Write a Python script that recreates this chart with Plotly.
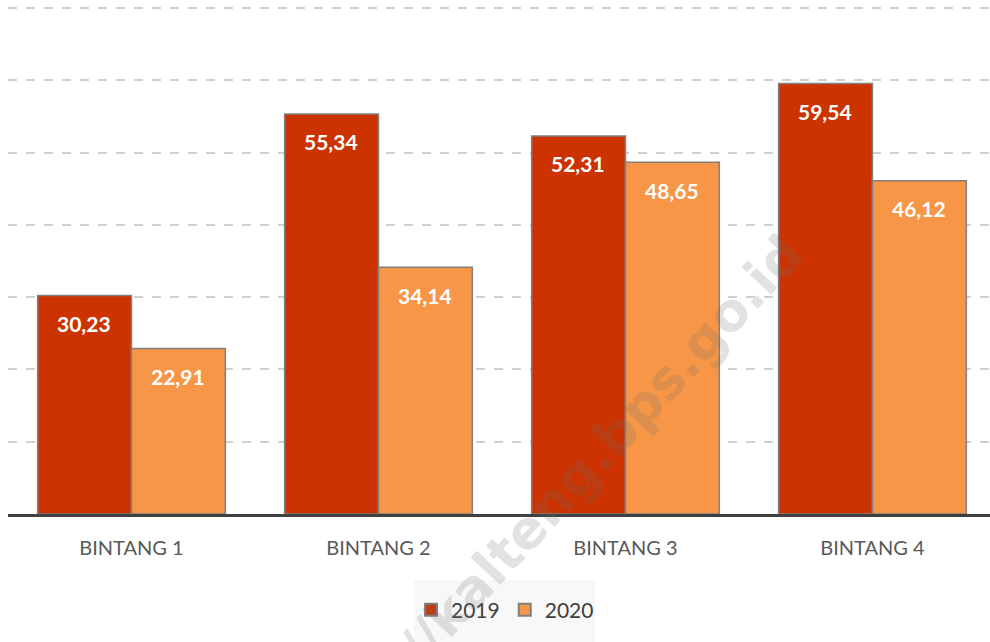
import plotly.graph_objects as go

categories = ["BINTANG 1", "BINTANG 2", "BINTANG 3", "BINTANG 4"]
series_names = ["2019", "2020"]
values_2019 = [30.23, 55.34, 52.31, 59.54]
values_2020 = [22.91, 34.14, 48.65, 46.12]
grid_values = [10, 20, 30, 40, 50, 60, 70]
colors = ["#CC3300", "#F79646"]

def fmt(v):
    return f"{v:.2f}".replace(".", ",")

W, H = 990, 642
L, T, B = 8, 1, 128
PLOT_W = W - L
PLOT_H = H - T - B

def px(x):
    return (x - L) / PLOT_W

def py(y):
    return (PLOT_H - (y - T)) / PLOT_H

fig = go.Figure()
for name, vals, col in zip(series_names, [values_2019, values_2020], colors):
    fig.add_trace(go.Bar(
        name=name, x=categories, y=vals,
        marker=dict(color=col, line=dict(color="#808080", width=1.5)),
        hoverinfo="skip",
    ))

annotations = []
for vals, shift in [(values_2019, -47), (values_2020, 47)]:
    for c, v in zip(categories, vals):
        annotations.append(dict(
            x=c, y=v, xref="x", yref="y", text=fmt(v), showarrow=False,
            xshift=shift, yshift=-28,
            font=dict(family="Lato", size=21, color="white", weight="bold"),
        ))

annotations.append(dict(
    text="//kalteng.bps.go.id", showarrow=False,
    xref="paper", yref="paper",
    x=px(600), y=py(450),
    xanchor="center", yanchor="middle", textangle=-47,
    font=dict(family="DejaVu Sans", size=53, color="rgba(110,110,110,0.2)", weight="bold"),
))

shapes = [dict(
    type="rect", xref="paper", yref="paper",
    x0=px(414), x1=px(595),
    y0=py(580), y1=py(650),
    fillcolor="#F8F8F8", line=dict(width=0), layer="below",
)]
# top gridline drawn explicitly on top
shapes.append(dict(
    type="line", xref="paper", yref="y", x0=0, x1=1,
    y0=grid_values[-1], y1=grid_values[-1],
    line=dict(color="#CFCFCF", width=2, dash="dash"), layer="above",
))

fig.update_layout(
    width=W, height=H,
    margin=dict(l=L, r=0, t=T, b=B, autoexpand=False),
    paper_bgcolor="white", plot_bgcolor="white",
    barmode="group", bargap=0.24, bargroupgap=0,
    showlegend=True,
    legend=dict(
        orientation="h", x=px(505), xanchor="center",
        y=py(610), yanchor="middle",
        font=dict(family="Lato", size=21, color="#404040"),
        bgcolor="rgba(0,0,0,0)", itemsizing="constant",
    ),
    xaxis=dict(
        type="category", range=[-0.5, 3.476],
        showline=True, linecolor="#404040", linewidth=3,
        ticks="", showgrid=False, ticklabelstandoff=14,
        tickfont=dict(family="Lato", size=20, color="#595959"),
    ),
    yaxis=dict(
        range=[0, 70.97], tickmode="array", tickvals=grid_values,
        showticklabels=False,
        showgrid=True, gridcolor="#D0D0D0", gridwidth=1.5, griddash="dash",
        zeroline=False, showline=False,
    ),
    annotations=annotations,
    shapes=shapes,
)

fig.write_html(
    "out.html",
    config={"displayModeBar": False},
    post_script="document.body.style.margin='0';document.body.style.overflow='hidden';",
)
